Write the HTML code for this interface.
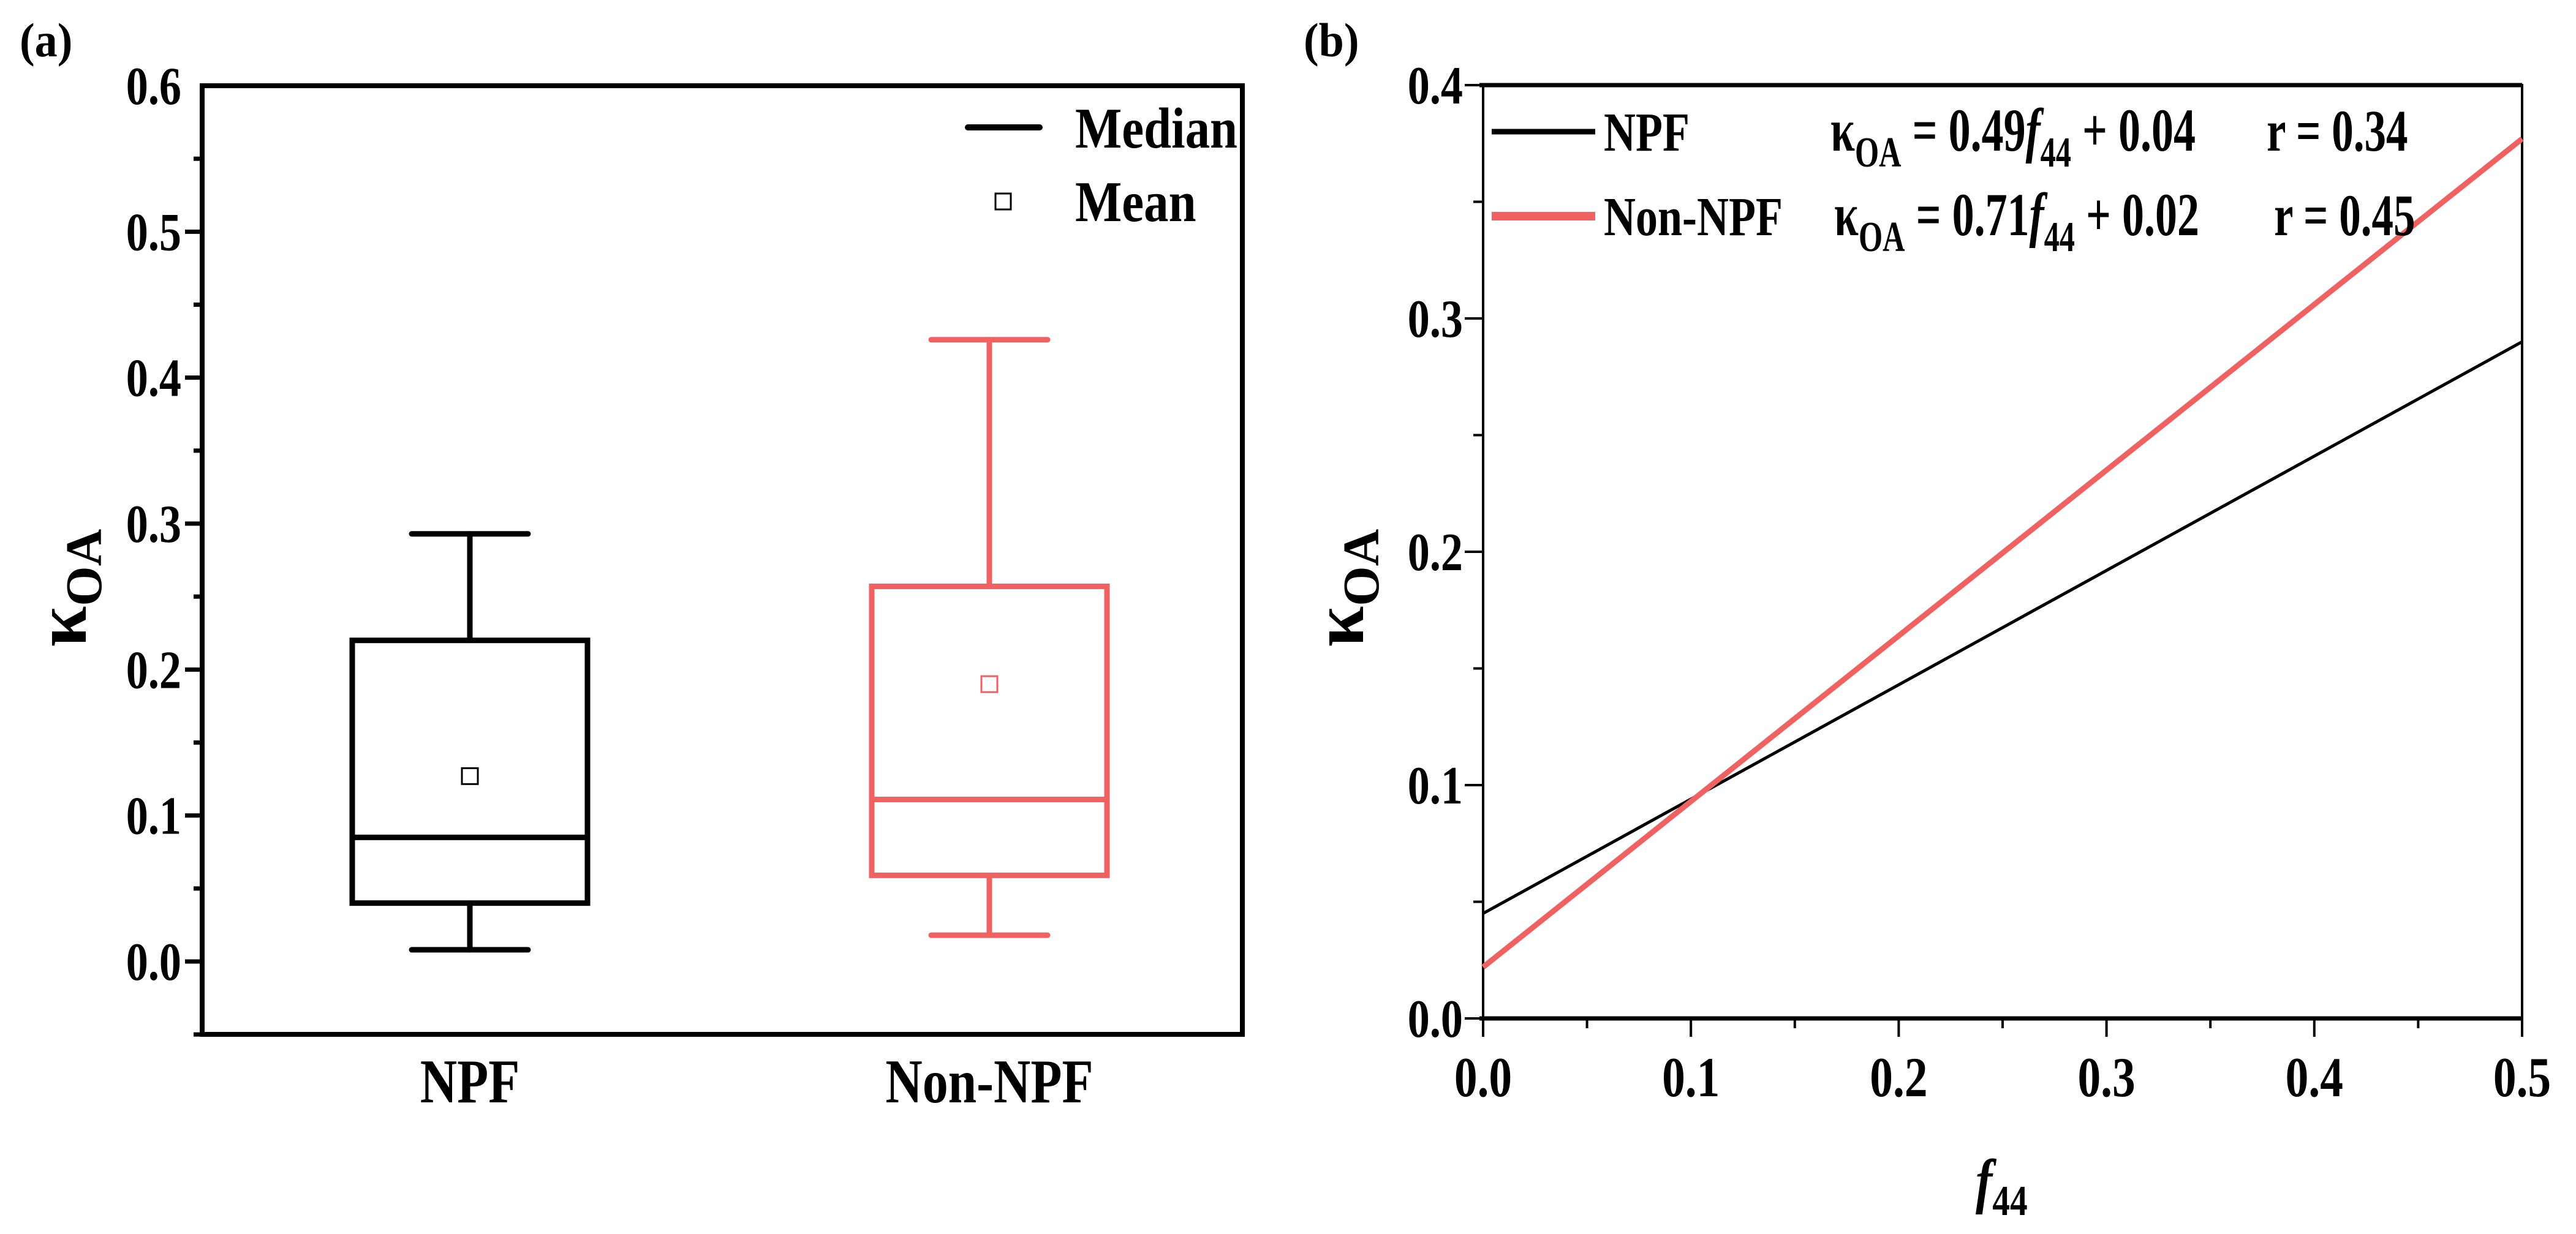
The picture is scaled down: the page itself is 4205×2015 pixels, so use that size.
<!DOCTYPE html>
<html><head><meta charset="utf-8"><style>
html,body{margin:0;padding:0;background:#fff}
svg{display:block}
text{font-family:"Liberation Serif",serif;font-weight:bold;fill:#000}
</style></head><body>
<svg id="fig" width="4205" height="2015" viewBox="0 0 4205 2015" xmlns="http://www.w3.org/2000/svg"></svg>
<script>
// Panel (a) box plot data
const boxCategories = ["NPF", "Non-NPF"];
const whiskerLow = [0.008, 0.018];
const q1Values = [0.040, 0.059];
const medianValues = [0.085, 0.111];
const q3Values = [0.220, 0.257];
const whiskerHigh = [0.293, 0.426];
const meanValues = [0.127, 0.190];
const boxColors = ["#000000", "#f06262"];
const aYTicks = [0.0, 0.1, 0.2, 0.3, 0.4, 0.5, 0.6];
const aYTickLabels = ["0.0", "0.1", "0.2", "0.3", "0.4", "0.5", "0.6"];

// Panel (b) regression line data
const lineNames = ["NPF", "Non-NPF"];
const lineSlopes = [0.49, 0.71];
const lineIntercepts = [0.045, 0.022];
const lineEquations = [["0.49", "0.04", "0.34"], ["0.71", "0.02", "0.45"]];
const bXTicks = [0.0, 0.1, 0.2, 0.3, 0.4, 0.5];
const bXTickLabels = ["0.0", "0.1", "0.2", "0.3", "0.4", "0.5"];
const bYTicks = [0.0, 0.1, 0.2, 0.3, 0.4];
const bYTickLabels = ["0.0", "0.1", "0.2", "0.3", "0.4"];

const NS = "http://www.w3.org/2000/svg";
const svg = document.getElementById("fig");
function mk(tag, attrs, parent) {
  const e = document.createElementNS(NS, tag);
  for (const k in attrs) e.setAttribute(k, attrs[k]);
  (parent || svg).appendChild(e);
  return e;
}
function txt(x, y, s, size, anchor, sx, parent) {
  const t = mk("text", {transform: `translate(${x},${y}) scale(${sx||0.82},1)`, "font-size": size, "text-anchor": anchor || "start"}, parent);
  t.textContent = s;
  return t;
}

// ---------- Panel a ----------
const A = {l: 330, r: 2028, t: 140, b: 1689};
const ay = v => 1570 - v * 2383.3;
const ax = i => [767, 1615][i];
const ga = mk("g", {});


let lab = txt(32, 92, "(a)", 78, "start", 0.95, ga);


let fr = mk("rect", {x: A.l, y: A.t, width: A.r - A.l, height: A.b - A.t, fill: "none", stroke: "#000", "stroke-width": 8}, ga);


for (let k = 0; k < 13; k++) {
  const v = -0.05 + k * 0.05;
  const y = ay(v);
  const major = Math.abs(Math.round(v * 10) - v * 10) < 1e-6;
  const tk = mk("line", {x1: A.l - (major ? 28 : 14), x2: A.l, y1: y, y2: y, stroke: "#000", "stroke-width": 7}, ga);
  
  
}
aYTicks.forEach((v, i) => {
  const t = txt(296, ay(v) + 30, aYTickLabels[i], 88, "end", 0.82, ga);
  
  
});
let ayt = mk("text", {transform: "translate(140,960) rotate(-90)", "font-size": 120, "text-anchor": "middle"}, ga);
ayt.innerHTML = 'κ<tspan font-size="84" dy="25">OA</tspan>';


boxCategories.forEach((c, i) => {
  const cx = ax(i), col = boxColors[i], hw = 192, cw = 95;
  const g = mk("g", {stroke: col, "stroke-width": 9, fill: "none", "stroke-linecap": "round"}, ga);
  
  
  mk("line", {x1: cx, x2: cx, y1: ay(whiskerHigh[i]), y2: ay(q3Values[i])}, g);
  mk("line", {x1: cx, x2: cx, y1: ay(q1Values[i]), y2: ay(whiskerLow[i])}, g);
  mk("line", {x1: cx - cw, x2: cx + cw, y1: ay(whiskerHigh[i]), y2: ay(whiskerHigh[i])}, g);
  mk("line", {x1: cx - cw, x2: cx + cw, y1: ay(whiskerLow[i]), y2: ay(whiskerLow[i])}, g);
  mk("rect", {x: cx - hw, y: ay(q3Values[i]), width: 2 * hw, height: ay(q1Values[i]) - ay(q3Values[i])}, g);
  const md = mk("line", {x1: cx - hw, x2: cx + hw, y1: ay(medianValues[i]), y2: ay(medianValues[i])}, g);
  
  
  const mn = mk("rect", {x: cx - 13, y: ay(meanValues[i]) - 13, width: 26, height: 26, "stroke-width": 3}, g);
  
  
  const xl = txt(cx, 1800, c, 102, "middle", 0.82, ga);
  
  
});
const lga = mk("g", {}, ga);


mk("line", {x1: 1580, x2: 1697, y1: 208, y2: 208, stroke: "#000", "stroke-width": 10, "stroke-linecap": "round"}, lga);
txt(1755, 241, "Median", 94, "start", 0.86, lga);
mk("rect", {x: 1625, y: 316, width: 25, height: 26, fill: "none", stroke: "#000", "stroke-width": 3}, lga);
txt(1755, 361, "Mean", 94, "start", 0.86, lga);

// ---------- Panel b ----------
const B = {l: 2421, r: 4117, t: 139, b: 1663};
const bx = v => B.l + v / 0.5 * (B.r - B.l);
const by = v => B.b - v / 0.4 * (B.b - B.t);
const gb = mk("g", {});


lab = txt(2128, 92, "(b)", 78, "start", 0.95, gb);


fr = mk("rect", {x: B.l, y: B.t, width: B.r - B.l, height: B.b - B.t, fill: "none", stroke: "#000", "stroke-width": 4}, gb);


mk("line", {x1: B.l - 6, x2: B.r, y1: B.t, y2: B.t, stroke: "#000", "stroke-width": 7}, gb);
mk("line", {x1: B.l - 6, x2: B.r, y1: B.b, y2: B.b, stroke: "#000", "stroke-width": 7}, gb);
for (let k = 0; k <= 10; k++) {
  const v = k * 0.05, x = bx(v);
  const tk = mk("line", {x1: x, x2: x, y1: B.b, y2: B.b + (k % 2 === 0 ? 30 : 16), stroke: "#000", "stroke-width": 4}, gb);
  
  
}
for (let k = 0; k <= 8; k++) {
  const v = k * 0.05, y = by(v);
  const tk = mk("line", {x1: B.l - (k % 2 === 0 ? 30 : 16), x2: B.l, y1: y, y2: y, stroke: "#000", "stroke-width": 4}, gb);
  
  
}
bXTicks.forEach((v, i) => {
  const t = txt(bx(v), 1790, bXTickLabels[i], 92, "middle", 0.82, gb);
  
  
});
bYTicks.forEach((v, i) => {
  const t = txt(2388, by(v) + 30, bYTickLabels[i], 88, "end", 0.82, gb);
  
  
});
let byt = mk("text", {transform: "translate(2225,960) rotate(-90)", "font-size": 120, "text-anchor": "middle"}, gb);
byt.innerHTML = 'κ<tspan font-size="84" dy="25">OA</tspan>';


let bxt = mk("text", {transform: "translate(3225,1962) scale(0.82,1)", "font-size": 100, "font-weight": "normal"}, gb);
bxt.innerHTML = '<tspan font-style="italic">f</tspan><tspan font-size="70" dy="22">44</tspan>';


const lineCols = ["#000000", "#f06262"], lineW = [5, 9];
lineNames.forEach((n, i) => {
  const l = mk("line", {x1: bx(0), y1: by(lineIntercepts[i]), x2: bx(0.5), y2: by(lineIntercepts[i] + lineSlopes[i] * 0.5), stroke: lineCols[i], "stroke-width": lineW[i]}, gb);
  
  
});
const legY = [215, 353], legBase = [246, 384], eqX = [2988, 2994], rX = [3700, 3712];
lineNames.forEach((n, i) => {
  const g = mk("g", {}, gb);
  
  
  mk("line", {x1: 2435, x2: 2604, y1: legY[i], y2: legY[i], stroke: lineCols[i], "stroke-width": i ? 14 : 9}, g);
  txt(2618, legBase[i], n, 90, "start", 0.8, g);
  const e = mk("text", {transform: `translate(${eqX[i]},${legBase[i]}) scale(0.72,1)`, "font-size": 100}, g);
  e.innerHTML = `κ<tspan font-size="70" dy="26">OA</tspan><tspan dy="-26"> = ${lineEquations[i][0]}</tspan><tspan font-style="italic">f</tspan><tspan font-size="70" dy="26">44</tspan><tspan dy="-26"> + ${lineEquations[i][1]}</tspan>`;
  txt(rX[i], legBase[i], "r = " + lineEquations[i][2], 96, "start", 0.74, g);
});
</script>
</body></html>
